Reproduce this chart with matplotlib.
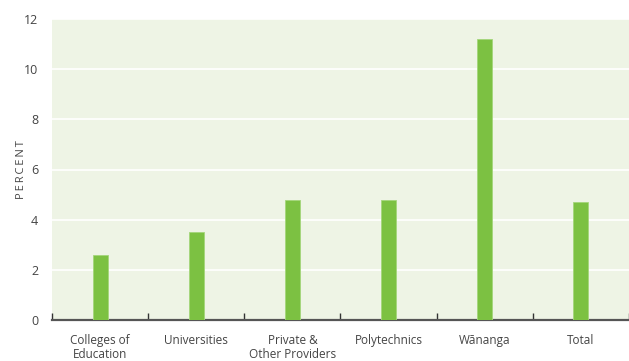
import numpy as np
import matplotlib.pyplot as plt

categories = ["Colleges of\nEducation", "Universities", "Private &\nOther Providers",
              "Polytechnics", "Wānanga", "Total"]
percent = [2.6, 3.5, 4.8, 4.8, 11.2, 4.7]
y_ticks = [0, 2, 4, 6, 8, 10, 12]

plt.rcParams['font.family'] = ['Open Sans', 'DejaVu Sans']

fig = plt.figure(figsize=(6.29, 3.61), dpi=100)
ax = fig.add_axes([52 / 629, 41 / 361, 577 / 629, 301 / 361])
ax.set_facecolor('#eef4e5')

x = np.arange(len(categories))
ax.bar(x, percent, width=0.155, color='#7cc142', edgecolor='#a4d67a', linewidth=0.6, zorder=3)

ax.set_ylim(0, 12)
ax.set_xlim(-0.5, len(categories) - 0.53)
ax.set_yticks(y_ticks)
ax.yaxis.grid(True, color='white', linewidth=1.2, zorder=1)
ax.tick_params(axis='y', length=0, pad=10, labelsize=9, labelcolor='#444444')

# category labels sit between the boundary ticks
ax.set_xticks(np.arange(len(categories) + 1) - 0.5)
ax.set_xticklabels([])
ax.set_xticks(x, minor=True)
ax.set_xticklabels(categories, minor=True, fontsize=8.5, color='#444444', linespacing=1.1)
ax.tick_params(axis='x', which='major', direction='in', length=5, width=1, color='#333333')
ax.tick_params(axis='x', which='minor', length=0, pad=10)

for side in ['top', 'right', 'left']:
    ax.spines[side].set_visible(False)
ax.spines['bottom'].set_color('#555555')
ax.spines['bottom'].set_linewidth(1.6)

# letter-spaced axis title
ax.set_ylabel('\u2009'.join('PERCENT'), fontsize=8, color='#444444')
ax.yaxis.set_label_coords(-52 / 577 + 27 / 577, 0.5)

fig.savefig('out.png', dpi=100)
